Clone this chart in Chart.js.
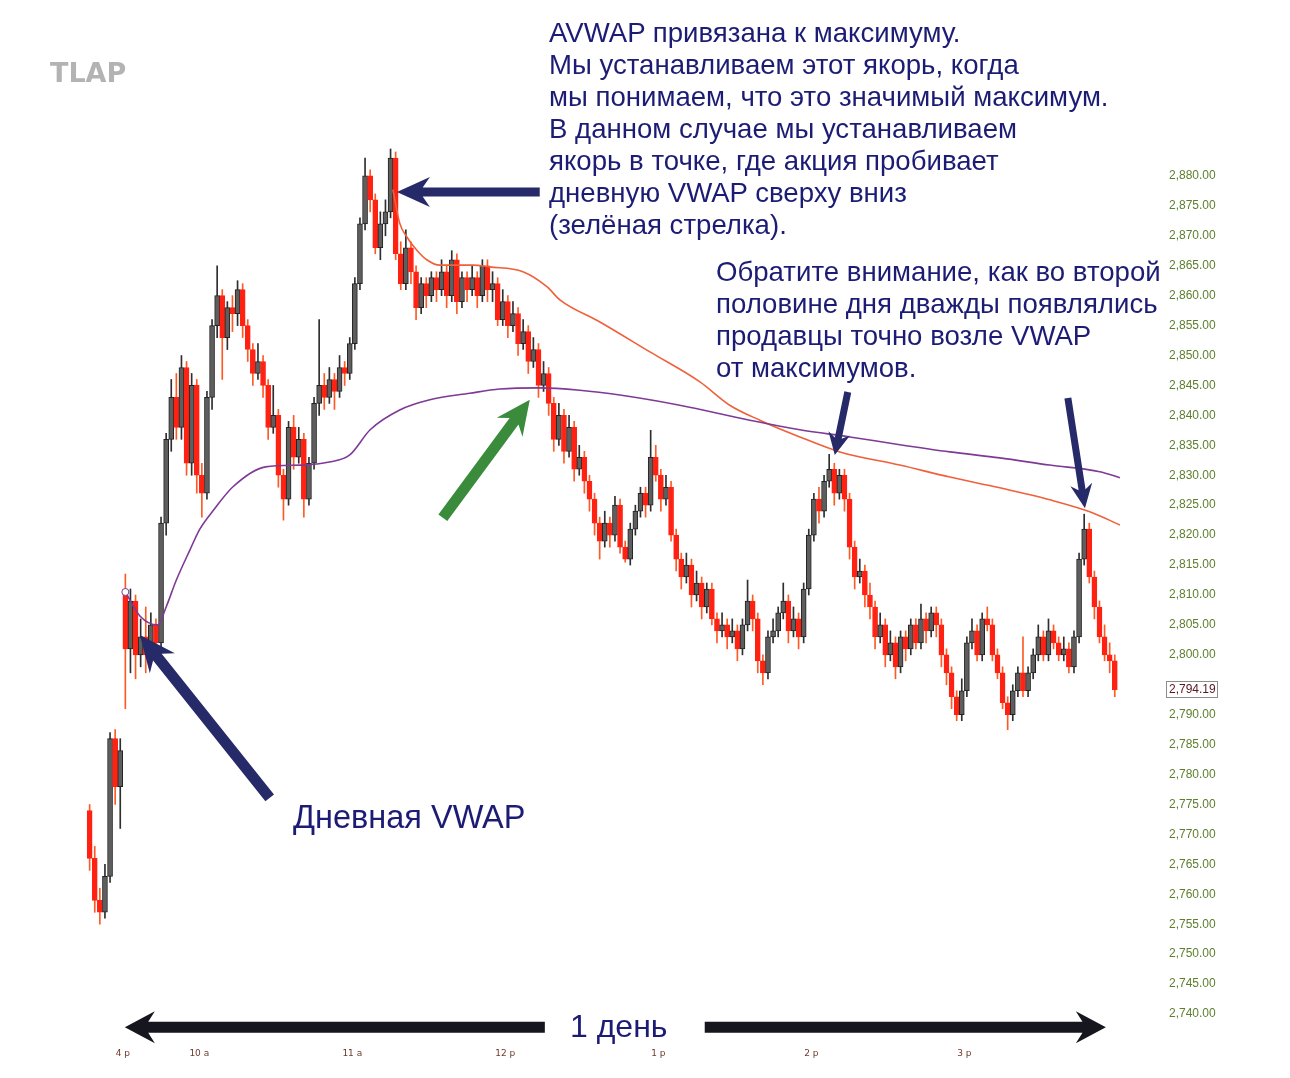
<!DOCTYPE html>
<html>
<head>
<meta charset="utf-8">
<title>AVWAP</title>
<script src="https://cdn.jsdelivr.net/npm/chart.js@4.4.1/dist/chart.umd.min.js"></script>
<style>
  html, body { margin: 0; padding: 0; background: #fff; }
  #wrap { position: relative; width: 1290px; height: 1078px; overflow: hidden; }
  #chart { position: absolute; left: 0; top: 0; }
  .note { position: absolute; font-family: "Liberation Sans", Arial, sans-serif; color: #1c1c74; white-space: nowrap; }
  #logo { position: absolute; left: 50px; top: 57px; font-family: "DejaVu Sans", sans-serif; font-weight: bold;
          font-size: 27px; color: #b3b3b3; }
</style>
</head>
<body>
<div id="wrap">
  <canvas id="chart" width="1290" height="1078"></canvas>
  <div id="logo">TLAP</div>
  <div class="note" style="left:549px; top:17px; font-size:27.6px; line-height:32px;">
    AVWAP привязана к максимуму.<br>
    Мы устанавливаем этот якорь, когда<br>
    мы понимаем, что это значимый максимум.<br>
    В данном случае мы устанавливаем<br>
    якорь в точке, где акция пробивает<br>
    дневную VWAP сверху вниз<br>
    (зелёная стрелка).
  </div>
  <div class="note" style="left:716px; top:256px; font-size:27.6px; line-height:32px;">
    Обратите внимание, как во второй<br>
    половине дня дважды появлялись<br>
    продавцы точно возле VWAP<br>
    от максимумов.
  </div>
  <div class="note" style="left:293px; top:798px; font-size:32.5px; line-height:38px;">Дневная VWAP</div>
  <div class="note" style="left:570px; top:1007px; font-size:32px; line-height:38px;">1 день</div>
</div>

<script>
// ---- candles: 2-minute bars, minutes from the 9:30 open (negatives = previous day close) ----
const candleMinutes = [];
for (let t = -13; t <= 389; t += 2) candleMinutes.push(t);

const opens = [
  2774, 2766, 2759, 2757, 2763, 2786, 2778,
  2810, 2801, 2809, 2800, 2803, 2800, 2805, 2802, 2822, 2836,
  2843, 2838, 2848, 2832, 2845, 2830, 2827, 2843, 2855, 2860,
  2853, 2858, 2857, 2861, 2855, 2851, 2847, 2849, 2845, 2838,
  2840, 2830, 2826, 2838, 2833, 2836, 2826, 2832, 2842, 2845,
  2843, 2846, 2844, 2848, 2847, 2852, 2862, 2872, 2880, 2876,
  2868, 2872, 2874, 2883, 2867, 2862, 2868, 2864, 2858, 2862,
  2860, 2863, 2861, 2864, 2860, 2866, 2859, 2863, 2861, 2863,
  2860, 2865, 2861, 2862, 2856, 2859, 2855, 2857, 2852, 2854,
  2849, 2851, 2845, 2847, 2842, 2836, 2840, 2834, 2838, 2831,
  2833, 2829, 2826, 2822, 2819, 2822, 2820, 2825, 2818, 2816,
  2821, 2824, 2827, 2825, 2833, 2830, 2826, 2828, 2820, 2816,
  2813, 2815, 2810, 2812, 2808, 2811, 2806, 2804, 2805, 2803,
  2804, 2801, 2805, 2809, 2806, 2799, 2797, 2803, 2804, 2807,
  2809, 2804, 2806, 2803, 2811, 2820, 2826, 2824, 2829, 2831,
  2827, 2830, 2826, 2818, 2813, 2814, 2810, 2808, 2803, 2805,
  2800, 2802, 2798, 2803, 2801, 2805, 2802, 2806, 2804, 2807,
  2805, 2800, 2797, 2793, 2790, 2794, 2802, 2804, 2800, 2806,
  2805, 2800, 2797, 2792, 2790, 2794, 2797, 2794, 2797, 2800,
  2803, 2800, 2804, 2802, 2800, 2801, 2798, 2803, 2816, 2821,
  2813, 2808, 2803, 2800, 2799
];
const highs = [
  2775, 2768, 2761, 2765, 2787, 2787.5, 2786,
  2813.5, 2811, 2810, 2806, 2808, 2807, 2806, 2823, 2837, 2846,
  2847, 2850, 2849, 2847, 2846, 2832, 2844, 2856, 2865, 2861,
  2859, 2860, 2862.5, 2862, 2856, 2852, 2852, 2850, 2846, 2845,
  2841, 2831, 2839, 2840, 2838, 2837, 2833, 2843, 2856, 2847,
  2848, 2847, 2850, 2849, 2853, 2863, 2873, 2883, 2881, 2877,
  2874, 2876, 2884.5, 2884, 2869, 2871, 2869, 2865, 2863, 2863,
  2864, 2864, 2866, 2865, 2867.5, 2867, 2864, 2864, 2865, 2864,
  2866, 2866, 2864, 2863, 2861, 2860, 2859, 2858, 2856, 2855,
  2853, 2852, 2849, 2848, 2843, 2842, 2841, 2840, 2839, 2835,
  2834, 2830, 2827, 2823, 2824, 2823, 2826.5, 2826, 2819, 2822,
  2825, 2828, 2828, 2837.5, 2835, 2831, 2830, 2829, 2821, 2817,
  2817, 2816, 2814, 2813, 2812, 2812, 2807, 2807, 2806, 2806,
  2805, 2806, 2812.5, 2810, 2807, 2800, 2804, 2806, 2808, 2812,
  2810, 2808, 2807, 2812, 2821, 2827, 2828, 2830, 2833.5, 2832,
  2831, 2831, 2827, 2819, 2816, 2815, 2812, 2809, 2807, 2806,
  2804, 2803, 2804, 2804, 2806, 2806, 2808.5, 2807, 2808, 2808,
  2806, 2801, 2798, 2794, 2796, 2803, 2806, 2805, 2807, 2808,
  2806, 2801, 2798, 2793, 2795, 2798, 2803, 2798, 2801, 2805,
  2804, 2806, 2805, 2803, 2803, 2802, 2804, 2817, 2823.5, 2822,
  2814, 2809, 2805, 2802, 2800
];
const lows = [
  2764, 2757, 2755, 2756, 2762, 2775, 2771,
  2791, 2797, 2796, 2798, 2797, 2799, 2800, 2801, 2820, 2834,
  2836, 2836, 2830, 2830, 2827, 2823, 2826, 2841, 2853, 2846,
  2851, 2854, 2855, 2853, 2849, 2845, 2846, 2843, 2836, 2837,
  2828, 2822.5, 2825, 2831, 2832, 2823, 2825, 2831, 2840, 2841,
  2842, 2841, 2843, 2845, 2846, 2851, 2861, 2871, 2874, 2867,
  2866, 2870, 2873, 2866, 2861, 2861, 2862, 2856, 2857, 2858,
  2859, 2859, 2860, 2858, 2859, 2857, 2858, 2859, 2860, 2858,
  2859, 2859, 2859, 2855, 2855, 2853, 2854, 2850, 2851, 2847,
  2848, 2843, 2844, 2840, 2834, 2835, 2832, 2833, 2829, 2830,
  2827, 2824, 2820, 2816, 2818, 2818, 2819, 2817, 2815.5, 2815,
  2820, 2823, 2823, 2824, 2829, 2824, 2825, 2819, 2814, 2811,
  2812, 2808, 2809, 2806, 2807, 2805, 2802, 2803, 2801, 2802,
  2799, 2800, 2804, 2804, 2797, 2795, 2796, 2802, 2803, 2806,
  2802, 2803, 2801, 2802, 2810, 2819, 2822, 2823, 2828, 2825,
  2826, 2824, 2816, 2811, 2812, 2808, 2806, 2801, 2802, 2798,
  2799, 2796, 2797, 2799, 2800, 2801, 2801, 2802, 2803, 2803,
  2798, 2795, 2791, 2789, 2789, 2793, 2801, 2799, 2799, 2804,
  2799, 2796, 2791, 2787.5, 2789, 2793, 2793, 2793, 2796, 2799,
  2799, 2799, 2801, 2799, 2799, 2797, 2797, 2802, 2815, 2812,
  2806, 2802, 2799, 2797, 2793
];
const closes = [
  2766, 2759, 2757, 2763, 2786, 2778, 2784,
  2801, 2809, 2800, 2803, 2800, 2805, 2802, 2822, 2836, 2843,
  2838, 2848, 2832, 2845, 2830, 2827, 2843, 2855, 2860, 2853,
  2858, 2857, 2861, 2855, 2851, 2847, 2849, 2845, 2838, 2840,
  2830, 2826, 2838, 2833, 2836, 2826, 2832, 2842, 2845, 2843,
  2846, 2844, 2848, 2847, 2852, 2862, 2872, 2880, 2876, 2868,
  2872, 2874, 2883, 2867, 2862, 2868, 2864, 2858, 2862, 2860,
  2863, 2861, 2864, 2860, 2866, 2859, 2863, 2861, 2863, 2860,
  2865, 2861, 2862, 2856, 2859, 2855, 2857, 2852, 2854, 2849,
  2851, 2845, 2847, 2842, 2836, 2840, 2834, 2838, 2831, 2833,
  2829, 2826, 2822, 2819, 2822, 2820, 2825, 2818, 2816, 2821,
  2824, 2827, 2825, 2833, 2830, 2826, 2828, 2820, 2816, 2813,
  2815, 2810, 2812, 2808, 2811, 2806, 2804, 2805, 2803, 2804,
  2801, 2805, 2809, 2806, 2799, 2797, 2803, 2804, 2807, 2809,
  2804, 2806, 2803, 2811, 2820, 2826, 2824, 2829, 2831, 2827,
  2830, 2826, 2818, 2813, 2814, 2810, 2808, 2803, 2805, 2800,
  2802, 2798, 2803, 2801, 2805, 2802, 2806, 2804, 2807, 2805,
  2800, 2797, 2793, 2790, 2794, 2802, 2804, 2800, 2806, 2805,
  2800, 2797, 2792, 2790, 2794, 2797, 2794, 2797, 2800, 2803,
  2800, 2804, 2802, 2800, 2801, 2798, 2803, 2816, 2821, 2813,
  2808, 2803, 2800, 2799, 2794.19
];

// ---- daily VWAP (purple) and VWAP anchored to the high (orange) ----
const vwapMinutes = [1, 6.7, 13.7, 17, 21, 26.3, 30.2, 36, 43, 56, 70, 81, 89, 97, 108.6, 120.4, 136.1, 147.8,
  163.5, 179.2, 194.9, 218.4, 245.9, 265.5, 285.1, 304.7, 324.3, 343.9, 363.5, 383.1, 391];
const vwapValues = [2810.5, 2806.5, 2805, 2808, 2812.5, 2817.5, 2821, 2824.4, 2828, 2831.4, 2831.7, 2832.2, 2833.4,
  2837.6, 2840.9, 2842.6, 2843.7, 2844.4, 2844.6, 2844.2, 2843.4, 2841.7, 2839.2, 2837.6, 2836.4, 2835.1, 2833.9,
  2832.9, 2831.7, 2830.6, 2829.6];

const avwapMinutes = [105.9, 108.6, 111.4, 115.3, 119.2, 124.3, 137.3, 143.9, 156.9, 166.3, 171.4, 187.1, 206.7,
  226.3, 238, 249.8, 265.5, 281.2, 304.7, 324.3, 343.9, 363.5, 379.2, 391];
const avwapValues = [2877.7, 2872.1, 2869.8, 2867.6, 2866, 2865.1, 2865.1, 2864.8, 2864, 2861.5, 2859.3, 2855.6,
  2850.6, 2845.6, 2841.7, 2839.2, 2836.4, 2833.9, 2831.7, 2829.7, 2827.9, 2825.9, 2823.9, 2821.7];

// ---- axis ticks ----
const xTickMinutes = [0, 30, 90, 150, 210, 270, 330];
const xTickLabels = ["4 p", "10 a", "11 a", "12 p", "1 p", "2 p", "3 p"];
const yTicks = [2740, 2745, 2750, 2755, 2760, 2765, 2770, 2775, 2780, 2785, 2790, 2795, 2800, 2805, 2810,
  2815, 2820, 2825, 2830, 2835, 2840, 2845, 2850, 2855, 2860, 2865, 2870, 2875, 2880];
const lastPrice = closes[closes.length - 1];

// ---- colours ----
const UP_BODY = "#5e5e5e", UP_EDGE = "#222222", UP_WICK = "#2e2e2e";
const DN_BODY = "#ff2212", DN_WICK = "#ff5a24";
const NAVY = "#272a68", GREEN = "#3a8c3c", BLACK = "#16161f";

const isUp = closes.map((c, i) => c >= opens[i]);
const bodyData = candleMinutes.map((t, i) => ({ x: t, y: [opens[i], closes[i]] }));
const wickData = candleMinutes.map((t, i) => ({ x: t, y: [lows[i], highs[i]] }));
const fmt = (v) => v.toLocaleString("en-US", { minimumFractionDigits: 2, maximumFractionDigits: 2 });

// arrow with notched head, drawn tail -> tip in pixels
function drawArrow(ctx, x1, y1, x2, y2, shaft, headW, headL, color) {
  const ang = Math.atan2(y2 - y1, x2 - x1);
  const len = Math.hypot(x2 - x1, y2 - y1);
  ctx.save();
  ctx.translate(x2, y2);
  ctx.rotate(ang);
  ctx.fillStyle = color;
  ctx.beginPath();
  ctx.moveTo(0, 0);
  ctx.lineTo(-headL, -headW / 2);
  ctx.lineTo(-headL * 0.78, -shaft / 2);
  ctx.lineTo(-len, -shaft / 2);
  ctx.lineTo(-len, shaft / 2);
  ctx.lineTo(-headL * 0.78, shaft / 2);
  ctx.lineTo(-headL, headW / 2);
  ctx.closePath();
  ctx.fill();
  ctx.restore();
}

// annotation arrows, given in chart units (minute, price)
const arrowPlugin = {
  id: "arrows",
  afterDatasetsDraw(chart) {
    const { ctx, scales: { x, y } } = chart;
    const A = (t1, p1, t2, p2, shaft, w, l, c) =>
      drawArrow(ctx, x.getPixelForValue(t1), y.getPixelForValue(p1), x.getPixelForValue(t2), y.getPixelForValue(p2), shaft, w, l, c);
    A(163.5, 2877.3, 107.5, 2877.3, 9, 30, 33, NAVY);      // to the high
    A(57.6, 2776.1, 6.7, 2803.3, 11, 32, 36, NAVY);        // daily VWAP start
    A(125.5, 2822.9, 159.6, 2842.6, 11, 32, 34, GREEN);    // break of VWAP
    A(284.3, 2843.9, 279.2, 2833.4, 7, 22, 22, NAVY);      // first seller
    A(370.6, 2842.9, 377.3, 2824.5, 7, 22, 24, NAVY);      // second seller
    A(165.5, 2737.8, 0.8, 2737.8, 11, 32, 30, BLACK);      // "1 день" left
    A(228.2, 2737.8, 385.5, 2737.8, 11, 32, 30, BLACK);    // "1 день" right
  },
  afterDraw(chart) {
    const { ctx, scales: { y } } = chart;
    const py = Math.round(y.getPixelForValue(lastPrice));
    ctx.save();
    ctx.fillStyle = "#fff";
    ctx.fillRect(1165, py - 12, 56, 22);
    ctx.strokeStyle = "#8c8c8c";
    ctx.lineWidth = 1;
    ctx.strokeRect(1166.5, py - 8.5, 51, 16);
    ctx.fillStyle = "#5a1620";
    ctx.font = "12px 'Liberation Sans', Arial, sans-serif";
    ctx.textBaseline = "middle";
    ctx.fillText(fmt(lastPrice), 1169, py);
    ctx.restore();
  }
};

new Chart(document.getElementById("chart"), {
  type: "bar",
  data: {
    datasets: [
      {
        type: "line", data: vwapMinutes.map((t, i) => ({ x: t, y: vwapValues[i] })),
        borderColor: "#7e3a94", borderWidth: 1.6, cubicInterpolationMode: "monotone",
        pointRadius: vwapMinutes.map((t, i) => (i === 0 ? 3.5 : 0)),
        pointBackgroundColor: "#fff", pointBorderColor: "#7e3a94", pointBorderWidth: 1, order: 0
      },
      {
        type: "line", data: avwapMinutes.map((t, i) => ({ x: t, y: avwapValues[i] })),
        borderColor: "#f0603a", borderWidth: 1.6, cubicInterpolationMode: "monotone",
        pointRadius: 0, order: 0
      },
      {
        data: bodyData, grouped: false, barThickness: 5, minBarLength: 1,
        backgroundColor: isUp.map((u) => (u ? UP_BODY : DN_BODY)),
        borderColor: isUp.map((u) => (u ? UP_EDGE : DN_BODY)),
        borderWidth: 1, borderSkipped: false, order: 1
      },
      {
        data: wickData, grouped: false, barThickness: 1,
        backgroundColor: isUp.map((u) => (u ? UP_WICK : DN_WICK)),
        borderWidth: 0, order: 2
      }
    ]
  },
  options: {
    responsive: false,
    animation: false,
    layout: { padding: { left: 82, top: 140, right: 0, bottom: 0 } },
    plugins: { legend: { display: false }, tooltip: { enabled: false } },
    scales: {
      x: {
        type: "linear", min: -16, max: 408.3, offset: false,
        grid: { display: false, drawTicks: false }, border: { display: false },
        afterBuildTicks: (s) => { s.ticks = xTickMinutes.map((v) => ({ value: v })); },
        afterFit: (s) => { s.height = 40; },
        ticks: {
          autoSkip: false, maxRotation: 0, padding: 10, color: "#6e3a2c",
          font: { family: "'DejaVu Sans', sans-serif", size: 9 },
          callback: (v) => xTickLabels[xTickMinutes.indexOf(v)]
        }
      },
      y: {
        position: "right", min: 2736, max: 2886,
        grid: { display: false, drawTicks: false }, border: { display: false },
        afterBuildTicks: (s) => { s.ticks = yTicks.map((v) => ({ value: v })); },
        afterFit: (s) => { s.width = 126; },
        ticks: {
          autoSkip: false, padding: 5, color: "#5d7f2c",
          font: { family: "'Liberation Sans', Arial, sans-serif", size: 12 },
          callback: (v) => fmt(v)
        }
      }
    }
  },
  plugins: [arrowPlugin]
});
</script>
</body>
</html>
